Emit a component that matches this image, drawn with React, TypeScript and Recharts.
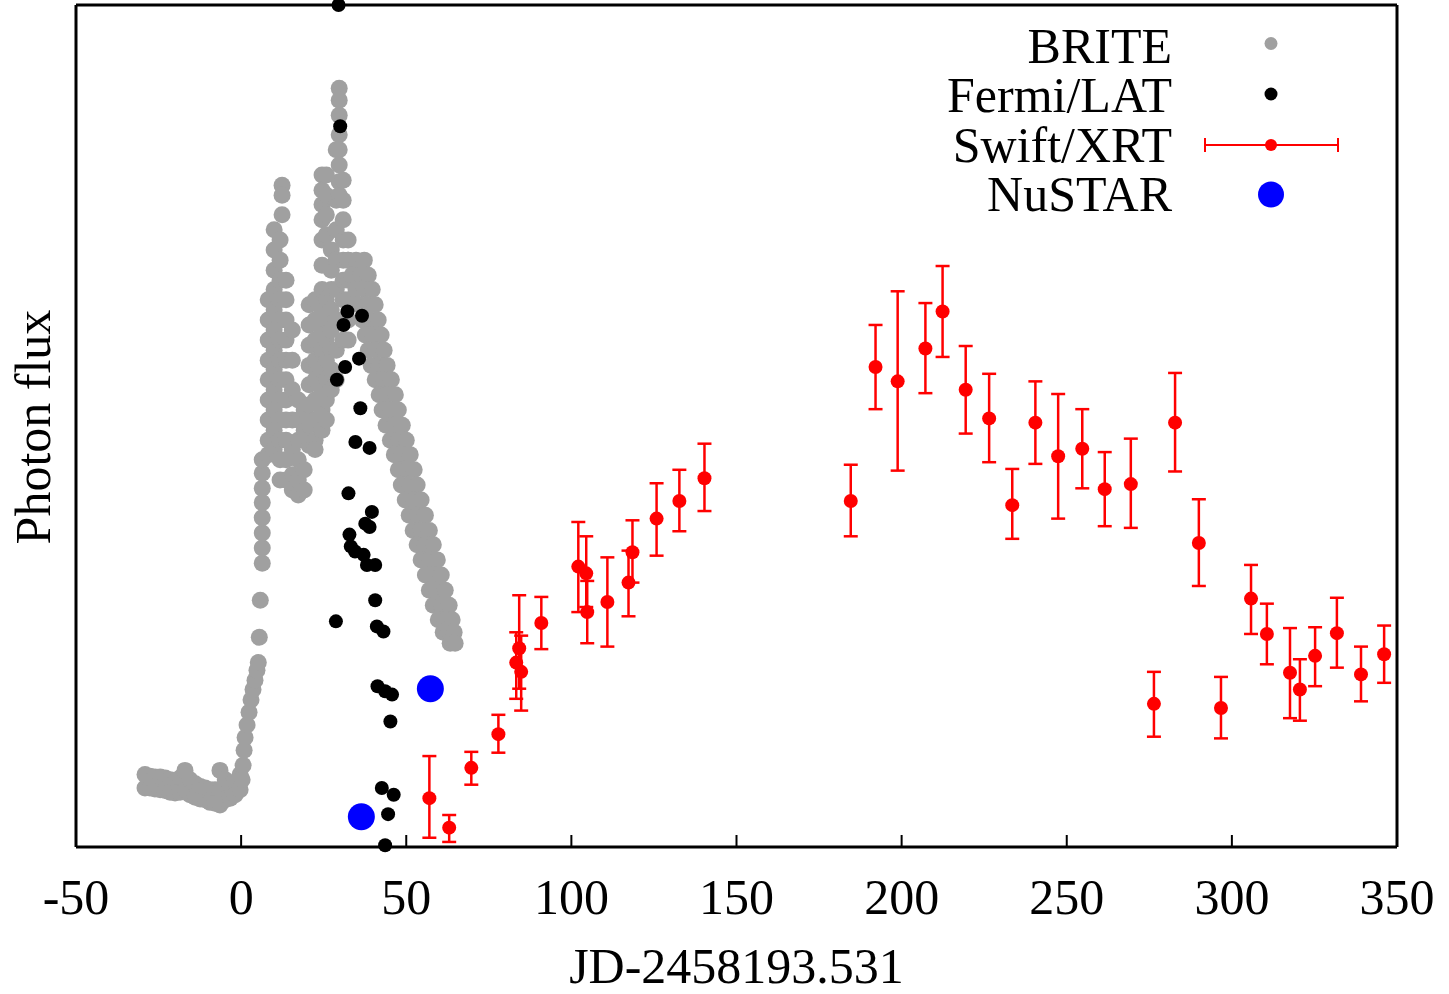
import { ScatterChart, Scatter, XAxis, YAxis, ErrorBar, Legend } from 'recharts'

const FONT = '"Liberation Serif", "Times New Roman", serif'

const xTicks = [-50, 0, 50, 100, 150, 200, 250, 300, 350]

// BRITE optical light curve: [day, fluxes seen at that day]
const briteCols: [number, number[]][] = [
  [-29.1, [8.6, 7.0]], [-27.6, [8.4, 7.0]], [-26.1, [8.3, 6.9]], [-24.5, [8.3, 6.8]],
  [-23.0, [8.2, 6.7]], [-21.5, [8.0, 6.5]], [-20.0, [7.7, 6.4]], [-18.5, [8.2, 6.5]],
  [-17.0, [9.1, 6.8]], [-15.5, [8.0, 6.2]], [-13.9, [7.5, 5.9]], [-12.4, [7.2, 5.7]],
  [-10.9, [7.0, 5.6]], [-9.4, [6.8, 5.3]], [-7.9, [6.8, 5.2]], [-6.4, [9.1, 6.8, 5.0]],
  [-4.8, [8.0, 5.6]], [-3.3, [7.4, 5.8]], [-1.8, [7.7, 6.2]], [-0.3, [8.6, 6.8]],
  [0.3, [8.0]], [0.6, [9.7]], [0.9, [11.5]], [1.2, [13.0]], [1.8, [14.5]], [2.4, [16.0]],
  [3.0, [17.5]], [3.6, [18.7]], [4.2, [19.8]], [4.8, [21.0]], [5.2, [21.9]], [5.5, [24.9]],
  [5.8, [29.3]],
  [6.4, [33.7, 35.5, 37.3, 39.1, 40.9, 42.6, 44.4, 46.0]],
  [8.2, [65.0, 62.6, 60.2, 57.8, 55.5, 53.1, 50.7, 48.3, 46.6]],
  [10.0, [73.3, 70.9, 68.5, 66.2, 63.8, 61.4, 59.0, 56.7, 54.3, 51.9, 49.5, 47.2]],
  [11.8, [72.1, 69.7, 67.3, 65.0, 62.6, 60.2, 57.8, 55.5, 53.1, 50.7, 48.3, 46.0, 43.6]],
  [12.4, [78.6, 77.4, 75.1]],
  [13.6, [67.3, 65.0, 62.6, 60.2, 57.8, 55.5, 53.1, 50.7, 48.3, 46.0, 43.6]],
  [15.5, [61.4, 57.8, 54.3, 50.7, 47.2, 44.2, 42.4]],
  [17.3, [53.1, 50.7, 48.3, 46.0, 43.6, 41.8]],
  [19.1, [51.9, 49.5, 44.8, 42.4]],
  [20.6, [64.4, 62.0, 59.6, 57.2, 54.9, 52.5, 50.1, 47.7]],
  [22.4, [65.0, 62.6, 60.2, 57.8, 55.5, 53.1, 50.7, 48.3, 47.2]],
  [24.5, [79.8, 78.0, 76.3, 74.5, 72.1, 69.1, 66.2, 63.8, 61.4, 59.0, 56.7, 54.3, 51.9, 49.5]],
  [25.8, [79.8, 77.4, 75.1, 72.7, 65.0, 62.6, 60.2, 57.8, 55.5, 53.1, 50.7]],
  [27.3, [70.9, 68.5, 66.2, 63.8, 61.4, 59.0, 56.7, 54.3]],
  [28.8, [82.8, 76.8, 73.3, 69.7, 66.2, 62.6, 59.0, 55.5]],
  [29.7, [90.1, 88.7, 86.9, 84.6, 82.8, 81.0, 79.0, 77.4]],
  [30.9, [79.2, 76.8, 74.5, 72.1, 69.7, 67.3, 65.0, 62.6, 60.2]],
  [32.4, [72.1, 69.7, 67.3, 65.0, 62.6, 60.2]],
]

// BRITE decline after the second maximum, [day, flux]
const briteTail: [number, number][] = [
  [32.4, 69.7], [34.8, 69.7], [37.3, 69.7],
  [33.6, 67.9], [36.1, 67.9], [38.5, 67.9],
  [34.8, 66.2], [37.3, 66.2], [39.7, 66.2],
  [35.8, 64.4], [38.2, 64.4], [40.6, 64.4],
  [36.7, 62.6], [39.1, 62.6], [41.5, 62.6],
  [37.6, 60.8], [40.0, 60.8], [42.4, 60.8],
  [38.5, 59.0], [40.9, 59.0], [43.3, 59.0],
  [39.4, 57.2], [41.8, 57.2], [44.2, 57.2],
  [40.6, 55.5], [43.0, 55.5], [45.5, 55.5],
  [41.8, 53.7], [44.2, 53.7], [46.7, 53.7],
  [42.7, 51.9], [45.2, 51.9], [47.6, 51.9],
  [43.9, 50.1], [46.4, 50.1], [48.8, 50.1],
  [45.2, 48.3], [47.6, 48.3], [50.0, 48.3],
  [46.4, 46.6], [48.8, 46.6], [51.2, 46.6],
  [47.6, 44.8], [50.0, 44.8], [52.4, 44.8],
  [48.5, 43.0], [50.9, 43.0], [53.3, 43.0],
  [49.7, 41.2], [52.1, 41.2], [54.5, 41.2],
  [50.9, 39.4], [53.3, 39.4], [55.8, 39.4],
  [52.1, 37.6], [54.5, 37.6], [57.0, 37.6],
  [53.3, 35.9], [55.8, 35.9], [58.2, 35.9],
  [54.5, 34.1], [57.0, 34.1], [59.4, 34.1],
  [55.8, 32.3], [58.2, 32.3], [60.6, 32.3],
  [57.0, 30.5], [59.4, 30.5], [61.8, 30.5],
  [58.2, 28.7], [60.6, 28.7], [63.0, 28.7],
  [59.7, 27.0], [61.8, 27.0], [63.9, 27.0],
  [61.2, 25.5], [63.0, 25.5], [64.5, 25.5],
  [63.3, 24.2], [64.8, 24.2],
]

const fermiDays = [29.5, 30.0, 32.2, 36.6, 31.0, 35.7, 31.5, 29.0, 36.1, 34.6, 38.9, 32.5, 39.6, 37.6, 38.9, 32.8, 33.2,
  34.5, 37.1, 38.1, 40.6, 40.6, 28.7, 41.1, 43.1, 41.3, 43.6, 45.7, 45.2, 42.6, 46.2, 44.5, 43.6]
const fermiFlux = [100, 85.6, 63.6, 63.1, 62.0, 58.0, 57.0, 55.5, 52.1, 48.1, 47.4, 42.0, 39.8, 38.4, 38.0, 37.1, 35.7,
  35.1, 34.7, 33.5, 33.5, 29.3, 26.8, 26.2, 25.6, 19.1, 18.5, 18.1, 14.9, 7.0, 6.2, 3.9, 0.2]

const swiftDays = [57.0, 63.0, 69.7, 77.9, 83.3, 84.2, 84.8, 90.9, 102.1, 104.5, 104.8, 110.9, 117.3, 118.5, 125.8, 132.7,
  140.3, 184.6, 192.1, 198.8, 207.2, 212.4, 219.4, 226.5, 233.5, 240.5, 247.4, 254.7, 261.5, 269.4, 276.4, 282.8, 290.0,
  296.7, 305.8, 310.6, 317.6, 320.6, 325.2, 331.8, 339.1, 346.1]
const swiftFlux = [5.8, 2.3, 9.4, 13.4, 21.9, 23.6, 20.8, 26.6, 33.3, 32.5, 27.9, 29.1, 31.4, 35.0, 39.0, 41.1, 43.8,
  41.1, 57.0, 55.3, 59.2, 63.6, 54.3, 50.9, 40.6, 50.4, 46.4, 47.3, 42.5, 43.1, 17.0, 50.4, 36.1, 16.5, 29.5, 25.3,
  20.7, 18.7, 22.7, 25.4, 20.5, 22.9]
const swiftLow = [1.1, 0.6, 7.4, 11.2, 17.6, 18.8, 16.2, 23.5, 27.9, 28.5, 24.2, 23.8, 27.4, 31.4, 34.6, 37.5, 39.9,
  36.9, 52.0, 44.7, 53.9, 58.2, 49.1, 45.7, 36.6, 45.5, 39.0, 42.6, 38.1, 37.9, 13.1, 44.6, 31.0, 12.9, 25.3, 21.7,
  15.3, 15.0, 19.1, 21.3, 17.3, 19.5]
const swiftHigh = [10.8, 3.8, 11.3, 15.7, 25.5, 29.9, 25.1, 29.7, 38.6, 36.9, 31.6, 34.4, 35.2, 38.8, 43.2, 44.8, 47.9,
  45.4, 62.0, 66.0, 64.6, 69.0, 59.5, 56.2, 44.9, 55.3, 53.8, 52.0, 46.9, 48.5, 20.8, 56.3, 41.3, 20.2, 33.5, 28.9,
  26.0, 22.3, 26.1, 29.6, 23.8, 26.3]

const nustarDays = [36.4, 57.3]
const nustarFlux = [3.6, 18.8]

const britePts = [
  ...briteCols.flatMap(([x, ys]) => ys.map((y) => ({ x, y }))),
  ...briteTail.map(([x, y]) => ({ x, y })),
]
const fermiPts = fermiDays.map((x, i) => ({ x, y: fermiFlux[i] }))
const swiftPts = swiftDays.map((x, i) => ({
  x,
  y: swiftFlux[i],
  err: [swiftFlux[i] - swiftLow[i], swiftHigh[i] - swiftFlux[i]],
}))
const nustarPts = nustarDays.map((x, i) => ({ x, y: nustarFlux[i] }))

const dot = (r: number, fill: string) => (p: any) => <circle cx={p.cx} cy={p.cy} r={r} fill={fill} />

const legendRows = [
  { name: 'BRITE', baseline: 62.5 },
  { name: 'Fermi/LAT', baseline: 112 },
  { name: 'Swift/XRT', baseline: 161.5 },
  { name: 'NuSTAR', baseline: 211 },
]

function LegendBox() {
  return (
    <svg width={480} height={230} style={{ display: 'block' }}>
      {legendRows.map((r) => (
        <text key={r.name} x={272} y={r.baseline} textAnchor="end" fontFamily={FONT} fontSize={50} fill="#000">
          {r.name}
        </text>
      ))}
      <circle cx={371} cy={43.5} r={6.5} fill="#a0a0a0" />
      <circle cx={371} cy={94} r={6.5} fill="#000" />
      <g stroke="#ff0000" strokeWidth={2}>
        <line x1={305} y1={145} x2={438} y2={145} />
        <line x1={305} y1={138} x2={305} y2={152} />
        <line x1={438} y1={138} x2={438} y2={152} />
      </g>
      <circle cx={371} cy={145} r={6} fill="#ff0000" />
      <circle cx={371} cy={194.5} r={13} fill="#0000ff" />
    </svg>
  )
}

export default function App() {
  return (
    <div style={{ position: 'absolute', left: 0, top: 0, background: '#fff' }}>
      <ScatterChart width={1449} height={994} margin={{ top: 4, right: 51, bottom: 57, left: 75 }}>
        <XAxis
          type="number"
          dataKey="x"
          domain={[-50, 350]}
          ticks={xTicks}
          height={90}
          axisLine={{ stroke: '#000', strokeWidth: 3 }}
          tickLine={{ stroke: '#000', strokeWidth: 2 }}
          tickSize={-12}
          tickMargin={43}
          tick={{ fontSize: 50, fontFamily: FONT, fill: '#000' }}
          label={() => (
            <text x={736.5} y={983} textAnchor="middle" fontFamily={FONT} fontSize={50} fill="#000">
              JD-2458193.531
            </text>
          )}
        />
        <XAxis
          xAxisId="top"
          orientation="top"
          type="number"
          dataKey="x"
          domain={[-50, 350]}
          ticks={xTicks}
          height={1}
          axisLine={{ stroke: '#000', strokeWidth: 3 }}
          tickLine={{ stroke: '#000', strokeWidth: 2 }}
          tickSize={-12}
          tick={() => <g />}
        />
        <YAxis
          type="number"
          dataKey="y"
          domain={[0, 100]}
          width={1}
          tick={false}
          tickLine={false}
          axisLine={{ stroke: '#000', strokeWidth: 3 }}
          label={() => (
            <text x={50} y={427} transform="rotate(-90 50 427)" textAnchor="middle" fontFamily={FONT} fontSize={50} fill="#000">
              Photon flux
            </text>
          )}
        />
        <YAxis
          yAxisId="r"
          orientation="right"
          type="number"
          dataKey="y"
          domain={[0, 100]}
          width={1}
          tick={false}
          tickLine={false}
          axisLine={{ stroke: '#000', strokeWidth: 3 }}
        />
        <Legend
          layout="vertical"
          align="center"
          verticalAlign="middle"
          wrapperStyle={{ top: 0, left: 900, width: 480, height: 230 }}
          content={() => <LegendBox />}
        />
        <Scatter name="BRITE" data={britePts} shape={dot(8.5, '#a0a0a0')} isAnimationActive={false} />
        <Scatter name="Fermi/LAT" data={fermiPts} shape={dot(7, '#000')} isAnimationActive={false} />
        <Scatter name="Swift/XRT" data={swiftPts} shape={dot(7, '#ff0000')} isAnimationActive={false}>
          <ErrorBar dataKey="err" direction="y" width={7} stroke="#ff0000" strokeWidth={2.5} isAnimationActive={false} />
        </Scatter>
        <Scatter name="NuSTAR" data={nustarPts} shape={dot(13.5, '#0000ff')} isAnimationActive={false} />
      </ScatterChart>
    </div>
  )
}
